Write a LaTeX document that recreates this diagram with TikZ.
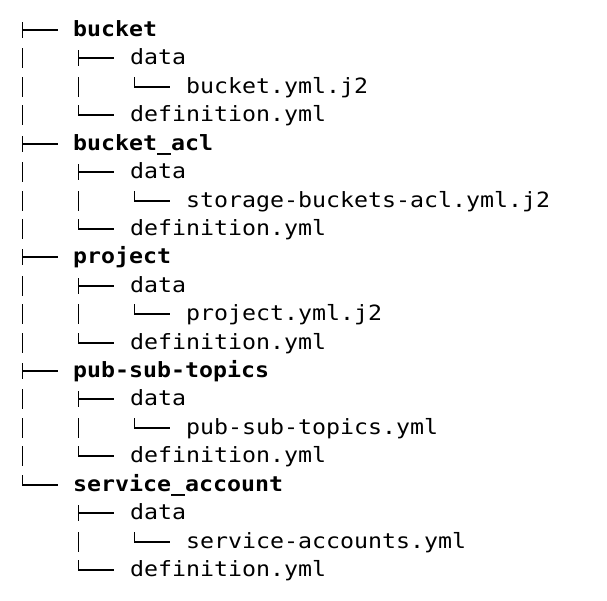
\documentclass[tikz,border=0pt]{standalone}
\usepackage{fontspec}
\newfontfamily\treefont[FakeStretch=1.107]{DejaVu Sans Mono}
% tree glyphs: column x, row number
\newcommand{\treetee}[2]{\draw[treeline] (#1,{round(30+28.42*(#2))-8}) -- (#1,{round(30+28.42*(#2))+8}) (#1,{round(30+28.42*(#2))}) -- ++(35,0);}
\newcommand{\treeelbow}[2]{\draw[treeline] (#1,{round(30+28.42*(#2))-10}) |- ++(35,10);}
\newcommand{\treepipe}[2]{\draw[treeline] (#1,{round(30+28.42*(#2))-10}) -- ++(0,20);}
\begin{document}
\begin{tikzpicture}[x=1pt, y=-1pt,
    treeline/.style={line width=1.5pt, black},
    entry/.style={anchor=base west, inner sep=0pt, text=black,
        font=\treefont\fontsize{21}{21}\selectfont},
    topdir/.style={entry, font=\treefont\bfseries\fontsize{21}{21}\selectfont}]
    \useasboundingbox (0,0) rectangle (607,600);

    % first four folders, same layout
    \foreach \dir/\file [count=\k from 0] in {bucket/bucket.yml.j2,
        bucket\_acl/storage-buckets-acl.yml.j2, project/project.yml.j2,
        pub-sub-topics/pub-sub-topics.yml} {
        \pgfmathtruncatemacro{\r}{4*\k}
        \treetee{22.5}{\r}
        \node[topdir] (dir-\k) at (73,{30+28.42*\r+6.5}) {\dir};
        % data
        \treepipe{22.5}{\r+1}
        \treetee{78.5}{\r+1}
        \node[entry] (data-\k) at (130,{30+28.42*(\r+1)+6.5}) {data};
        % file in data
        \treepipe{22.5}{\r+2}
        \treepipe{78.5}{\r+2}
        \treeelbow{134.5}{\r+2}
        \node[entry] (file-\k) at (186,{30+28.42*(\r+2)+6.5}) {\file};
        % definition
        \treepipe{22.5}{\r+3}
        \treeelbow{78.5}{\r+3}
        \node[entry] (def-\k) at (130,{30+28.42*(\r+3)+6.5}) {definition.yml};
    }

    % last folder
    \treeelbow{22.5}{16}
    \node[topdir] (dir-4) at (73,{30+28.42*16+6.5}) {service\_account};
    \treetee{78.5}{17}
    \node[entry] (data-4) at (130,{30+28.42*17+6.5}) {data};
    \treepipe{78.5}{18}
    \treeelbow{134.5}{18}
    \node[entry] (file-4) at (186,{30+28.42*18+6.5}) {service-accounts.yml};
    \treeelbow{78.5}{19}
    \node[entry] (def-4) at (130,{30+28.42*19+6.5}) {definition.yml};
\end{tikzpicture}
\end{document}
